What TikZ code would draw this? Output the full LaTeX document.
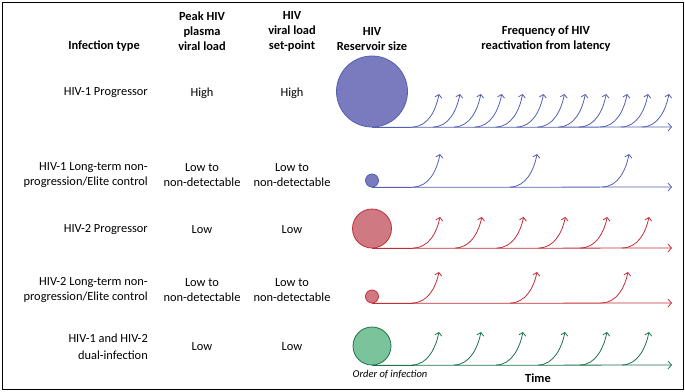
\documentclass[tikz,border=0pt]{standalone}
\usepackage{fontspec}
\setmainfont{Carlito}
\usetikzlibrary{arrows.meta}

\definecolor{hivblue}{RGB}{85,95,175}
\definecolor{hivbluefill}{RGB}{122,122,190}
\definecolor{hivred}{RGB}{195,45,55}
\definecolor{hivredfill}{RGB}{207,122,130}
\definecolor{hivgreen}{RGB}{30,115,75}
\definecolor{hivgreenfill}{RGB}{122,195,155}

\begin{document}
\begin{tikzpicture}[x=1pt,y=-1pt,
	txt/.style={font=\fontsize{12.4}{15}\selectfont,align=center,inner sep=0pt},
	head/.style={txt,font=\fontsize{12.4}{15}\selectfont\bfseries},
	kind/.style={txt,anchor=east,align=right},
	pool/.style={circle,inner sep=0pt,line width=0.8pt},
	axis/.style={line width=0.8pt,-{Straight Barb[length=3.5pt,width=8pt]}},
	curl/.style={line width=0.8pt,-{Straight Barb[length=3pt,width=7pt]}}]
	\useasboundingbox (0,0) rectangle (685,391);
	\draw[line width=0.8pt] (2,2) rectangle (683,389);

	% column heads
	\node[head] (htype) at (104,46) {Infection type};
	\node[head] (hpeak) at (202,31) {Peak HIV\\plasma\\viral load};
	\node[head] (hset) at (292,31) {HIV\\viral load\\set-point};
	\node[head] (hres) at (372,39) {HIV\\Reservoir size};
	\node[head] (hfreq) at (546,39) {Frequency of HIV\\reactivation from latency};

	% HIV-1 progressor
	\node[kind] (t1) at (148,93) {HIV-1 Progressor};
	\node[txt] (p1) at (202,93) {High};
	\node[txt] (s1) at (292,93) {High};
	\node[pool,draw=hivblue,fill=hivbluefill,minimum size=71pt] (c1) at (372,91.5) {};
	\coordinate (e1) at (672,127);
	\draw[axis,hivblue] (c1.south) -- (e1);
	\foreach \x in {0,...,11}
		\draw[curl,hivblue] (439-27+20.9*\x,127) .. controls +(16,0) and +(-3,16) .. (439+20.9*\x,94);

	% HIV-1 elite control
	\node[kind] (t2) at (148,175) {HIV-1 Long-term non-\\progression/Elite control};
	\node[txt] (p2) at (202,175) {Low to\\non-detectable};
	\node[txt] (s2) at (292,175) {Low to\\non-detectable};
	\node[pool,draw=hivblue,fill=hivbluefill,minimum size=13pt] (c2) at (372,180.5) {};
	\coordinate (e2) at (672,187);
	\draw[axis,hivblue] (c2.south) -- (e2);
	\foreach \x in {440,537,629}
		\draw[curl,hivblue] (\x-27,187) .. controls +(16,0) and +(-3,16) .. (\x,154);

	% HIV-2 progressor
	\node[kind] (t3) at (148,230) {HIV-2 Progressor};
	\node[txt] (p3) at (202,230) {Low};
	\node[txt] (s3) at (292,230) {Low};
	\node[pool,draw=hivred,fill=hivredfill,minimum size=39pt] (c3) at (372,228.5) {};
	\coordinate (e3) at (672,248);
	\draw[axis,hivred] (c3.south) -- (e3);
	\foreach \x in {0,...,5}
		\draw[curl,hivred] (440-27+41.8*\x,248) .. controls +(16,0) and +(-3,15) .. (440+41.8*\x,217);

	% HIV-2 elite control
	\node[kind] (t4) at (148,290.5) {HIV-2 Long-term non-\\progression/Elite control};
	\node[txt] (p4) at (202,290.5) {Low to\\non-detectable};
	\node[txt] (s4) at (292,290.5) {Low to\\non-detectable};
	\node[pool,draw=hivred,fill=hivredfill,minimum size=13pt] (c4) at (372,296.5) {};
	\coordinate (e4) at (672,303);
	\draw[axis,hivred] (c4.south) -- (e4);
	\foreach \x in {439,537,628}
		\draw[curl,hivred] (\x-27,303) .. controls +(16,0) and +(-3,15) .. (\x,272);

	% dual infection
	\node[kind] (t5) at (148,347) {HIV-1 and HIV-2\\[2pt]dual-infection};
	\node[txt] (p5) at (202,347) {Low};
	\node[txt] (s5) at (292,347) {Low};
	\node[pool,draw=hivgreen,fill=hivgreenfill,minimum size=38pt] (c5) at (372,346) {};
	\coordinate (e5) at (672,365);
	\draw[axis,hivgreen] (c5.south) -- (e5);
	\foreach \x in {0,...,5}
		\draw[curl,hivgreen] (439-27+42*\x,365) .. controls +(16,0) and +(-3,15) .. (439+42*\x,332);

	\node[txt,font=\fontsize{10.5}{12}\selectfont\itshape] (order) at (390,374) {Order of infection};
	\node[head] (time) at (538,378) {Time};
\end{tikzpicture}
\end{document}
